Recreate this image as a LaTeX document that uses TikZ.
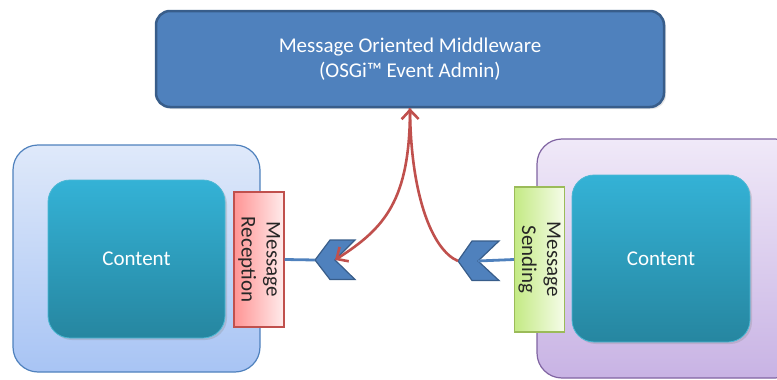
\documentclass[tikz,border=0pt]{standalone}
\usepackage{fontspec}
\usepackage{graphicx}
\setmainfont{Carlito}
\usetikzlibrary{arrows.meta,shadows}
\definecolor{mwblue}{HTML}{4F81BD}
\definecolor{mwedge}{HTML}{385D8A}
\definecolor{teal1}{HTML}{34B2D6}
\definecolor{teal2}{HTML}{2686A0}
\definecolor{tealedge}{HTML}{4DB8D4}
\definecolor{sky1}{HTML}{DFE9FA}
\definecolor{sky2}{HTML}{A8C4F4}
\definecolor{lilac1}{HTML}{F0E9F8}
\definecolor{lilac2}{HTML}{C8B3E4}
\definecolor{lilacedge}{HTML}{8064A2}
\definecolor{rose1}{HTML}{FF9494}
\definecolor{rose2}{HTML}{FFECEC}
\definecolor{roseedge}{HTML}{C0504D}
\definecolor{lime1}{HTML}{C4EA84}
\definecolor{lime2}{HTML}{F5FCE9}
\definecolor{limeedge}{HTML}{9BBB59}
\definecolor{redarrow}{HTML}{C0504D}
\newcommand{\downtext}[2]{\rotatebox{-90}{\begin{tabular}{@{}c@{}}#1\\#2\end{tabular}}}
\tikzset{
  bigfont/.style={font=\fontsize{21}{25}\selectfont},
  mwbox/.style={
    rectangle, rounded corners=14pt, draw=mwedge, line width=2.5pt,
    fill=mwblue, text=white, bigfont, align=center,
    minimum width=508pt, minimum height=96pt,
    drop shadow={opacity=0.2, shadow xshift=2pt, shadow yshift=-2pt}
  },
  bundlebox/.style n args={3}{
    rectangle, rounded corners=25pt, draw=#3, line width=1.2pt,
    top color=#1, bottom color=#2
  },
  contentbox/.style={
    rectangle, rounded corners=22pt, draw=tealedge, line width=0.8pt,
    top color=teal1, bottom color=teal2, text=white, bigfont,
    drop shadow={opacity=0.25, shadow xshift=2pt, shadow yshift=-2pt}
  },
  portbox/.style n args={3}{
    rectangle, draw=#3, line width=1.2pt,
    left color=#1, right color=#2, text=black!85, bigfont, inner sep=0pt
  },
  chevron/.style={fill=mwblue, draw=mwedge, line width=1.2pt, line join=miter},
  wire/.style={draw=mwblue, line width=2.8pt},
  msgflow/.style={
    draw=redarrow, line width=2.6pt,
    -{Straight Barb[length=9pt, width=17pt, line width=2.6pt]}
  },
}
\begin{document}
\begin{tikzpicture}[x=1pt, y=-1pt]
  \useasboundingbox (0,0) rectangle (777,380);
  \clip (0,0) rectangle (777,380);

  % middleware
  \node[mwbox] (mom) at (410,59) {Message Oriented Middleware\\(OSGi™ Event Admin)};

  % receiving bundle (left)
  \node[bundlebox={sky1}{sky2}{mwblue}, minimum width=247pt, minimum height=227pt] (recvbundle) at (136.5,258.5) {};
  \node[contentbox, minimum width=177pt, minimum height=158pt] (recvcontent) at (136.5,259) {Content};
  \node[portbox={rose1}{rose2}{roseedge}, minimum width=48pt, minimum height=135pt] (recv) at (259,259.5) {\downtext{Message}{Reception}};

  % sending bundle (right)
  \node[bundlebox={lilac1}{lilac2}{lilacedge}, minimum width=263pt, minimum height=239pt] (sendbundle) at (668.5,258.5) {};
  \node[contentbox, minimum width=178pt, minimum height=167pt] (sendcontent) at (661,258.5) {Content};
  \node[portbox={lime1}{lime2}{limeedge}, minimum width=47pt, minimum height=145pt] (send) at (539.5,259.5) {\downtext{Message}{Sending}};

  % chevrons
  \coordinate (ltip) at (315,260);
  \coordinate (lnotch) at (335,260);
  \coordinate (rtip) at (458,261);
  \coordinate (rnotch) at (478,261);
  \draw[chevron] (ltip) -- ++(15,-20) -- ++(25,0) -- (lnotch) -- ++(20,19.5) -- ++(-25,0) -- cycle;
  \draw[chevron] (rtip) -- ++(14,-20) -- ++(27,0) -- (rnotch) -- ++(21,19.5) -- ++(-27,0) -- cycle;

  % wires
  \draw[wire] (recv.east) -- (ltip);
  \draw[wire] (send.west) -- (rnotch);

  % message flow
  \draw[msgflow] (mom.south) .. controls (410,200) and (385,228) .. (lnotch);
  \draw[msgflow] (rtip) .. controls (432,250) and (411,195) .. (mom.south);
\end{tikzpicture}
\end{document}
